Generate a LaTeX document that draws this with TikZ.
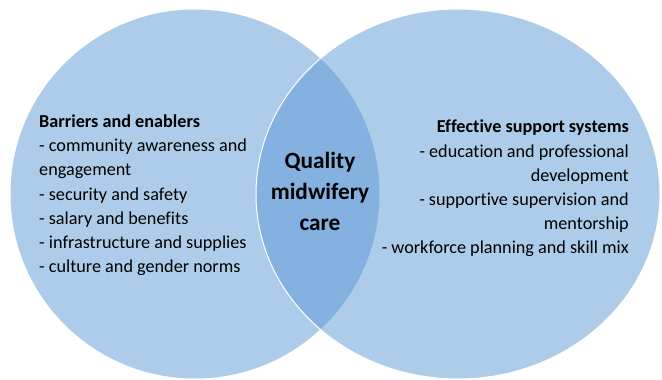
\documentclass[tikz,border=0pt]{standalone}
\usepackage{fontspec}
\setmainfont{Carlito}[Ligatures={NoCommon,NoRare,NoContextual}]
\definecolor{lightblue}{RGB}{173,204,234}
\definecolor{lensblue}{RGB}{132,177,223}
\begin{document}
\begin{tikzpicture}[x=1pt,y=1pt,
  sidetext/.style={inner sep=0pt,font=\fontsize{18.2}{24.2}\selectfont},
  centertext/.style={inner sep=0pt,align=center,font=\fontsize{23.3}{31}\selectfont\bfseries}]
\useasboundingbox (0,0) rectangle (662,380);
% circles
\fill[lightblue] (195,186) circle[radius=184.5];
\fill[lightblue] (458,186) ellipse[x radius=202,y radius=185];
\begin{scope}
  \clip (195,186) circle[radius=184.5];
  \fill[lensblue] (458,186) ellipse[x radius=202,y radius=185];
\end{scope}
\draw[white,line width=1pt] (458,186) ellipse[x radius=202,y radius=185];
% texts
\node[sidetext,align=left,anchor=north west] (left) at (39,265.5)
  {\textbf{Barriers and enablers}\\
   - community awareness and\\
   engagement\\
   - security and safety\\
   - salary and benefits\\
   - infrastructure and supplies\\
   - culture and gender norms};
\node[sidetext,align=right,anchor=north east] (right) at (629,260)
  {\textbf{Effective support systems}\\
   - education and professional\\
   development\\
   - supportive supervision and\\
   mentorship\\
   - workforce planning and skill mix};
\node[centertext] (center) at (320,189) {Quality\\midwifery\\care};
\end{tikzpicture}
\end{document}
